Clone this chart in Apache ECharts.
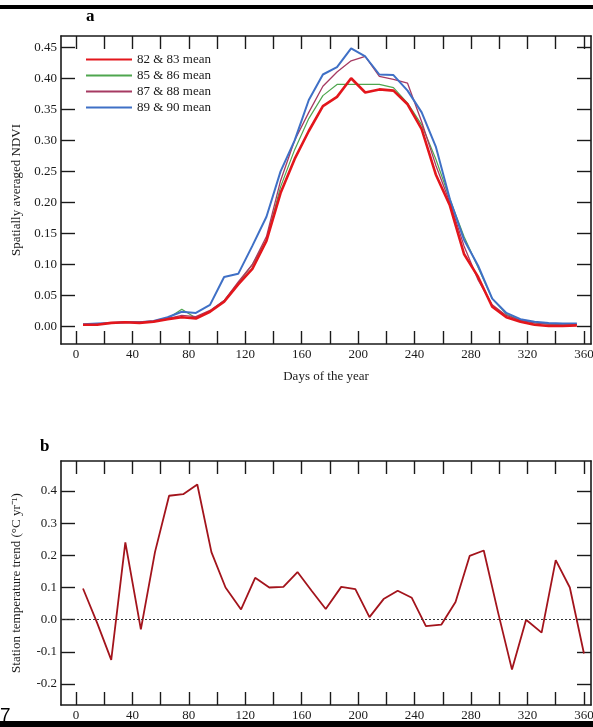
<!DOCTYPE html>
<html>
<head>
  <meta charset="utf-8">
  <title>NDVI and station temperature trend</title>
  <script src="https://cdn.jsdelivr.net/npm/echarts@6/dist/echarts.min.js"></script>
  <style>
    html, body { margin: 0; padding: 0; background: #fff; }
  </style>
</head>
<body>
  <div id="main" style="width:593px;height:727px;"></div>
  <script type="text/javascript">
    // panel a: day of year of each composite
    var daysA = [5, 15, 25, 35, 45, 55, 65, 75, 85, 95, 105, 115, 125, 135, 145, 155, 165, 175,
                 185, 195, 205, 215, 225, 235, 245, 255, 265, 275, 285, 295, 305, 315, 325, 335, 345, 355];
    var ndvi8283 = [0.003, 0.003, 0.006, 0.007, 0.006, 0.008, 0.012, 0.015, 0.013, 0.024, 0.040, 0.068,
                    0.093, 0.138, 0.215, 0.270, 0.315, 0.355, 0.370, 0.400, 0.377, 0.382, 0.380, 0.358,
                    0.318, 0.245, 0.195, 0.117, 0.080, 0.032, 0.015, 0.008, 0.003, 0.001, 0.001, 0.002];
    var ndvi8586 = [0.003, 0.004, 0.006, 0.007, 0.007, 0.008, 0.013, 0.028, 0.014, 0.025, 0.042, 0.070,
                    0.100, 0.140, 0.225, 0.285, 0.335, 0.372, 0.390, 0.390, 0.390, 0.390, 0.385, 0.360,
                    0.325, 0.270, 0.205, 0.145, 0.095, 0.045, 0.020, 0.010, 0.006, 0.004, 0.003, 0.003];
    var ndvi8788 = [0.003, 0.004, 0.006, 0.007, 0.007, 0.008, 0.013, 0.018, 0.016, 0.026, 0.042, 0.072,
                    0.100, 0.145, 0.235, 0.300, 0.345, 0.387, 0.410, 0.428, 0.435, 0.403, 0.398, 0.392,
                    0.330, 0.260, 0.200, 0.130, 0.075, 0.035, 0.018, 0.010, 0.006, 0.004, 0.004, 0.004];
    var ndvi8990 = [0.004, 0.005, 0.006, 0.007, 0.007, 0.009, 0.015, 0.024, 0.022, 0.035, 0.080, 0.085,
                    0.130, 0.177, 0.250, 0.300, 0.365, 0.406, 0.418, 0.448, 0.435, 0.406, 0.405, 0.380,
                    0.345, 0.290, 0.205, 0.140, 0.098, 0.045, 0.022, 0.012, 0.008, 0.006, 0.005, 0.005];

    // panel b: dekad mid-days and temperature trend
    var daysB = [5, 15, 25, 35, 46, 56, 66, 76, 86, 96, 106, 117, 127, 137, 147, 157, 167, 177,
                 188, 198, 208, 218, 228, 238, 248, 259, 269, 279, 289, 299, 309, 319, 330, 340, 350, 360];
    var trend = [0.097, -0.010, -0.125, 0.240, -0.030, 0.210, 0.385, 0.390, 0.420, 0.210, 0.100, 0.032,
                 0.130, 0.100, 0.102, 0.148, 0.090, 0.033, 0.102, 0.095, 0.008, 0.064, 0.090, 0.068,
                 -0.020, -0.015, 0.055, 0.198, 0.215, 0.025, -0.155, 0.000, -0.040, 0.185, 0.100, -0.105];

    // ticks
    var dayTicks = [0, 20, 40, 60, 80, 100, 120, 140, 160, 180, 200, 220, 240, 260, 280, 300, 320, 340, 360];
    var dayLabels = [0, 40, 80, 120, 160, 200, 240, 280, 320, 360];
    var ndviTicks = [0, 0.05, 0.10, 0.15, 0.20, 0.25, 0.30, 0.35, 0.40, 0.45];
    var trendTicks = [-0.2, -0.1, 0, 0.1, 0.2, 0.3, 0.4];

    var seriesNames = ['82 & 83 mean', '85 & 86 mean', '87 & 88 mean', '89 & 90 mean'];

    function pairs(xs, ys) {
      return xs.map(function (x, i) { return [x, ys[i]]; });
    }

    var serif = 'Liberation Serif';
    var ink = '#1a1a1a';

    function xAxisOf(grid, pos, showLabel) {
      return {
        type: 'value', gridIndex: grid, position: pos, min: -10.6, max: 365,
        axisLine: { show: true, onZero: false, lineStyle: { color: ink, width: 1.6 } },
        axisTick: { show: true, inside: true, length: 13, customValues: dayTicks,
                    lineStyle: { color: ink, width: 1.4 } },
        axisLabel: { show: showLabel, customValues: dayLabels, margin: 4,
                     fontFamily: serif, fontSize: 13, color: ink },
        splitLine: { show: false }
      };
    }

    function yAxisOf(grid, pos, lo, hi, ticks, digits, showLabel) {
      return {
        type: 'value', gridIndex: grid, position: pos, min: lo, max: hi,
        axisLine: { show: true, onZero: false, lineStyle: { color: ink, width: 1.6 } },
        axisTick: { show: true, inside: true, length: 14, customValues: ticks,
                    lineStyle: { color: ink, width: 1.4 } },
        axisLabel: { show: showLabel, customValues: ticks, margin: 4,
                     fontFamily: serif, fontSize: 13, color: ink,
                     formatter: function (v) { return v.toFixed(digits); } },
        splitLine: { show: false }
      };
    }

    var myChart = echarts.init(document.getElementById('main'), null, { renderer: 'canvas' });

    var xA = xAxisOf(0, 'bottom', true);
    xA.name = 'Days of the year';
    xA.nameLocation = 'middle';
    xA.nameGap = 26;
    xA.nameTextStyle = { fontFamily: serif, fontSize: 13, color: ink };

    var xB = xAxisOf(1, 'bottom', true);
    xB.name = 'Days of the year';
    xB.nameLocation = 'middle';
    xB.nameGap = 21;
    xB.nameTextStyle = { fontFamily: serif, fontSize: 13, color: ink };

    var yA = yAxisOf(0, 'left', -0.028, 0.468, ndviTicks, 2, true);
    yA.name = 'Spatially averaged NDVI';
    yA.nameLocation = 'middle';
    yA.nameGap = 38;
    yA.nameTextStyle = { fontFamily: serif, fontSize: 13, color: ink };

    var yB = yAxisOf(1, 'left', -0.265, 0.493, trendTicks, 1, true);
    yB.name = 'Station temperature trend (\u00B0C yr\u207B\u00B9)';
    yB.nameLocation = 'middle';
    yB.nameGap = 38;
    yB.nameTextStyle = { fontFamily: serif, fontSize: 13, color: ink };

    var colors = ['#e3161c', '#4fa64f', '#a63a62', '#3f70c6'];
    var widths = [2.6, 1.2, 1.3, 2.0];
    var dataA = [ndvi8283, ndvi8586, ndvi8788, ndvi8990];

    var series = dataA.map(function (vals, i) {
      return {
        name: seriesNames[i], type: 'line', xAxisIndex: 0, yAxisIndex: 0,
        data: pairs(daysA, vals), symbol: 'none', z: i === 0 ? 5 : 2,
        lineStyle: { color: colors[i], width: widths[i] },
        itemStyle: { color: colors[i] }
      };
    });
    series.push({
      name: 'trend', type: 'line', xAxisIndex: 2, yAxisIndex: 2,
      data: pairs(daysB, trend), symbol: 'none',
      lineStyle: { color: '#a3141c', width: 1.8 },
      markLine: {
        silent: true, symbol: 'none', label: { show: false },
        lineStyle: { color: '#333', type: [2, 2], width: 1.2 },
        data: [{ yAxis: 0 }]
      }
    });

    var option = {
      backgroundColor: '#fff',
      animation: false,
      grid: [
        { left: 61, right: 2, top: 36, height: 308, containLabel: false, outerBoundsMode: 'none' },
        { left: 61, right: 2, top: 461, height: 244, containLabel: false, outerBoundsMode: 'none' }
      ],
      xAxis: [xA, xAxisOf(0, 'top', false), xB, xAxisOf(1, 'top', false)],
      yAxis: [yA, yAxisOf(0, 'right', -0.028, 0.468, ndviTicks, 2, false),
              yB, yAxisOf(1, 'right', -0.265, 0.493, trendTicks, 1, false)],
      legend: {
        data: seriesNames, orient: 'vertical', left: 80, top: 48,
        itemWidth: 46, itemHeight: 12, itemGap: 3,
        itemStyle: { opacity: 0 },
        textStyle: { fontFamily: serif, fontSize: 13, color: ink }
      },
      graphic: [
        { type: 'rect', left: 0, top: 5, shape: { width: 593, height: 4 }, style: { fill: '#000' } },
        { type: 'rect', left: 0, top: 721, z: 100, shape: { width: 593, height: 6 }, style: { fill: '#000' } },
        { type: 'text', left: 86, top: 8, style: { text: 'a', font: 'bold 17px "Liberation Serif"', fill: '#000' } },
        { type: 'text', left: 40, top: 438, style: { text: 'b', font: 'bold 17px "Liberation Serif"', fill: '#000' } },
        { type: 'text', left: 0, top: 706, style: { text: '7', font: '19px "Liberation Sans"', fill: '#000' } }
      ],
      series: series
    };

    myChart.setOption(option);
  </script>
</body>
</html>
